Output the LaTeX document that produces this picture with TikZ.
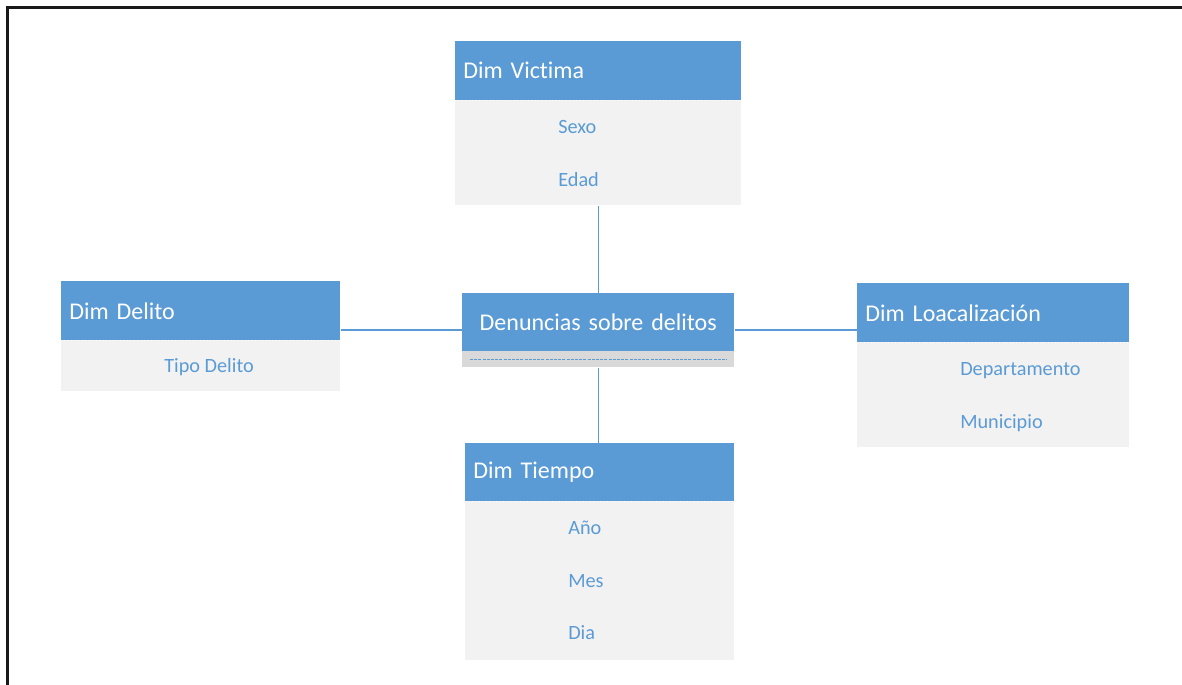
\documentclass[tikz,border=0pt]{standalone}
\usepackage{fontspec}
\setmainfont{Carlito}[RawFeature={-liga}]
\definecolor{hblue}{HTML}{5B9BD5}
\definecolor{bgray}{HTML}{F2F2F2}
\definecolor{sgray}{HTML}{D9D9D9}
\begin{document}
\begin{tikzpicture}[x=0.75pt,y=-0.75pt,
  hdr/.style={rectangle, fill=hblue, text=white, anchor=north west,
    inner xsep=6pt, inner ysep=0pt, minimum height=44.25pt,
    font=\fontsize{18}{20}\selectfont, align=left},
  bodybox/.style={rectangle, fill=bgray, anchor=north west, inner sep=0pt},
  item/.style={anchor=base west, text=hblue, inner sep=0pt,
    font=\fontsize{15.2}{18}\selectfont},
  link/.style={draw=hblue, line width=0.8pt},
  seam/.style={draw=white, dotted, line width=0.6pt},
  frame/.style={draw=black!90, line width=2.25pt}]

\useasboundingbox (0,0) rectangle (1182,685);
\fill[white] (0,0) rectangle (1182,685);

% outer frame (left and top edges)
\draw[frame] (7.5,685) -- (7.5,7.5) -- (1182,7.5);

% Dim Victima
\node[hdr, text width=202.5pt] (vh) at (455,41) {Dim Victima};
\node[bodybox, minimum width=214.5pt, minimum height=78.75pt] (vb) at (455,100) {};
\draw[seam] (vh.south west) -- (vh.south east);
\node[item] (v1) at (558,133.5) {Sexo};
\node[item] (v2) at (558,186) {Edad};

% Dim Delito
\node[hdr, text width=197.25pt] (dh) at (61,281) {Dim Delito};
\node[bodybox, minimum width=209.25pt, minimum height=38.25pt] (db) at (61,340) {};
\draw[seam] (dh.south west) -- (dh.south east);
\node[item] (d1) at (164,372.5) {Tipo Delito};

% fact table
\node[hdr, text width=192pt, minimum height=43.5pt, align=center] (ch) at (462,293) {Denuncias sobre delitos};
\node[bodybox, fill=sgray, minimum width=204pt, minimum height=12pt] (cs) at (462,351) {};
\draw[draw=hblue, line width=1pt, dash pattern=on 2.25pt off 0.9pt]
  ([xshift=6pt]cs.west) -- ([xshift=-6pt]cs.east);

% Dim Loacalizacion
\node[hdr, text width=192pt] (lh) at (857,283) {Dim Loacalización};
\node[bodybox, minimum width=204pt, minimum height=78.75pt] (lb) at (857,342) {};
\draw[seam] (lh.south west) -- (lh.south east);
\node[item] (l1) at (960,375) {Departamento};
\node[item] (l2) at (960,428) {Municipio};

% Dim Tiempo
\node[hdr, text width=189.75pt, minimum height=43.5pt] (th) at (465,443) {Dim Tiempo};
\node[bodybox, minimum width=201.75pt, minimum height=119.25pt] (tb) at (465,501) {};
\draw[seam] (th.south west) -- (th.south east);
\node[item] (t1) at (568,534.5) {Año};
\node[item] (t2) at (568,587.5) {Mes};
\node[item] (t3) at (568,639.5) {Dia};

% connectors
\coordinate (hy) at (0,330);
\draw[link] (vb.south) -- (ch.north);
\draw[link] (cs.south) -- (cs.south |- th.north);
\draw[link] (dh.east |- hy) -- (ch.west |- hy);
\draw[link] (ch.east |- hy) -- (lh.west |- hy);
\end{tikzpicture}
\end{document}
